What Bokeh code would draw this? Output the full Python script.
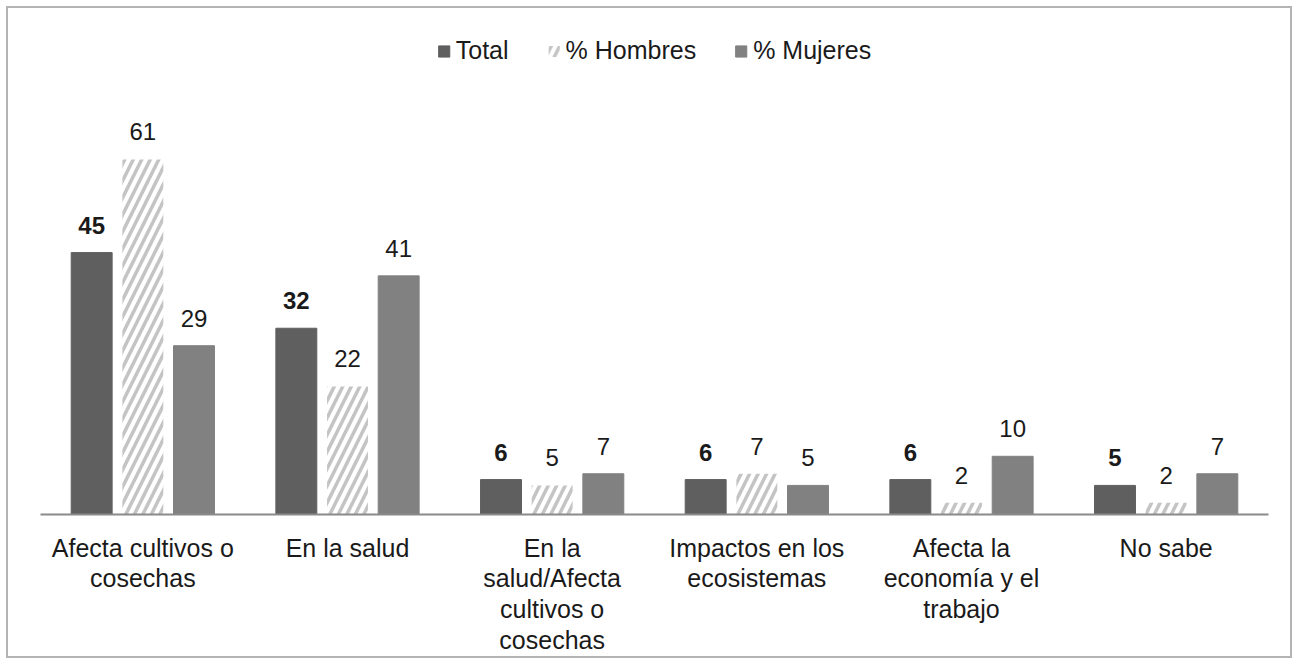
from bokeh.plotting import figure
from bokeh.models import ColumnDataSource, Range1d, Legend, LegendItem, FactorRange
from bokeh.transform import dodge
from bokeh.core.properties import value
from bokeh.embed import file_html
from bokeh.resources import INLINE

categories = ["Afecta cultivos o\ncosechas", "En la salud",
              "En la\nsalud/Afecta\ncultivos o\ncosechas", "Impactos en los\necosistemas",
              "Afecta la\neconomía y el\ntrabajo", "No sabe"]
total = [45, 32, 6, 6, 6, 5]
hombres = [61, 22, 5, 7, 2, 2]
mujeres = [29, 41, 7, 5, 10, 7]

src = ColumnDataSource(dict(cat=categories, total=total, hombres=hombres, mujeres=mujeres,
                            total_s=[str(v) for v in total],
                            hombres_s=[str(v) for v in hombres],
                            mujeres_s=[str(v) for v in mujeres]))

FONT = "Liberation Sans"
p = figure(x_range=FactorRange(*categories, range_padding=0), y_range=Range1d(0, 83.5),
           width=1286, height=652, output_backend="svg", toolbar_location=None,
           min_border_left=32, min_border_right=26, min_border_top=20, min_border_bottom=146)
p.styles = {"border": "2px solid #b4b4b4", "margin": "6px 0 0 6px"}

bw = 0.2
r_tot = p.vbar(x=dodge("cat", -0.25, range=p.x_range), top="total", width=bw, source=src,
               fill_color="#5f5f5f", line_color="#5f5f5f")
r_hom = p.vbar(x=dodge("cat", 0.0, range=p.x_range), top="hombres", width=bw, source=src,
               fill_color="white", line_color=None, hatch_pattern="/", hatch_color="#c4c4c4",
               hatch_weight=3.5, hatch_scale=17)
r_muj = p.vbar(x=dodge("cat", 0.25, range=p.x_range), top="mujeres", width=bw, source=src,
               fill_color="#818181", line_color="#818181")

common = dict(text_align="center", text_baseline="bottom", y_offset=-19,
              text_font=value(FONT), text_font_size="24px", text_color="#1a1a1a", source=src)
p.text(x=dodge("cat", -0.25, range=p.x_range), y="total", text="total_s",
       text_font_style="bold", **common)
p.text(x=dodge("cat", 0.0, range=p.x_range), y="hombres", text="hombres_s", **common)
p.text(x=dodge("cat", 0.25, range=p.x_range), y="mujeres", text="mujeres_s", **common)

p.xgrid.visible = False
p.ygrid.visible = False
p.yaxis.visible = False
p.outline_line_color = None
ax = p.xaxis[0]
ax.axis_line_color = "#8a8a8a"
ax.axis_line_width = 2
ax.major_tick_line_color = None
ax.minor_tick_line_color = None
ax.major_label_standoff = 13
ax.major_label_text_font = FONT
ax.major_label_text_font_size = "25px"
ax.major_label_text_color = "#1a1a1a"
ax.major_label_text_line_height = 1.1

legend = Legend(items=[LegendItem(label="Total", renderers=[r_tot]),
                       LegendItem(label="% Hombres", renderers=[r_hom]),
                       LegendItem(label="% Mujeres", renderers=[r_muj])],
                orientation="horizontal", location="top_center",
                glyph_width=14, glyph_height=14, label_standoff=5, spacing=38,
                padding=0, margin=8, border_line_color=None, background_fill_alpha=0,
                label_text_font=FONT, label_text_font_size="25px", label_text_color="#1a1a1a",
                label_height=24)
p.add_layout(legend)

open("out.html", "w").write(file_html(p, INLINE))
